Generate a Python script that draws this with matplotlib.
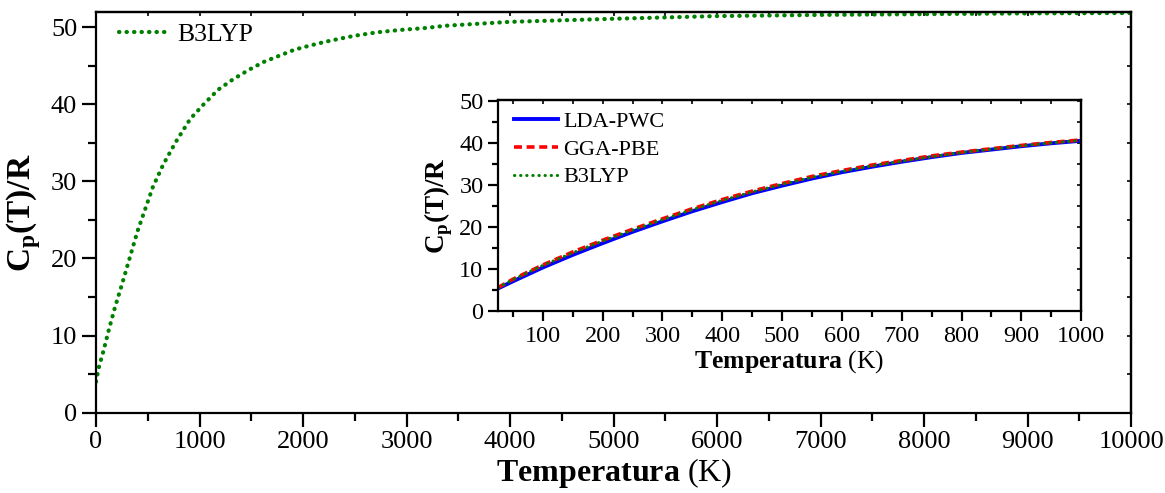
import matplotlib
matplotlib.use("Agg")
import matplotlib.pyplot as plt
from matplotlib.ticker import MultipleLocator

plt.rcParams['font.family'] = ['Liberation Serif', 'DejaVu Serif']
plt.rcParams['mathtext.fontset'] = 'custom'
plt.rcParams['mathtext.rm'] = 'Liberation Serif'
plt.rcParams['mathtext.bf'] = 'Liberation Serif:bold'

# ---------------- data ---------------- #
# main panel: B3LYP over the full range
temp_main = [0, 30, 70, 125, 185, 250, 335, 400, 475, 550, 650, 770, 910,
             1040, 1180, 1330, 1480, 1620, 1770, 1920, 2060, 2210, 2350,
             2500, 2720, 2940, 3180, 3380, 4000, 5000, 6000, 7000, 8000,
             9000, 10000]
cp_b3lyp_main = [4.0, 6.0, 7.9, 10.8, 13.75, 16.6, 20.5, 23.5, 26.4, 29.3,
                 32.2, 35.1, 38.1, 40.0, 41.9, 43.3, 44.5, 45.5, 46.3, 47.1,
                 47.6, 48.1, 48.5, 48.9, 49.35, 49.65, 49.9, 50.2, 50.7,
                 51.1, 51.45, 51.6, 51.7, 51.8, 51.85]

# inset: low temperature, three functionals
temp_inset = [25, 50, 100, 150, 200, 250, 300, 350, 400, 450, 500, 550,
              600, 650, 700, 750, 800, 850, 900, 950, 1000]
cp_lda = [5.4, 7.1, 10.4, 13.4, 16.2, 18.9, 21.4, 23.8, 26.0, 28.1, 29.9,
          31.6, 33.1, 34.4, 35.6, 36.7, 37.7, 38.5, 39.3, 40.0, 40.6]
cp_gga = [5.6, 7.6, 11.0, 14.1, 16.9, 19.5, 22.0, 24.4, 26.6, 28.6, 30.4,
          32.1, 33.5, 34.8, 35.9, 37.0, 37.9, 38.7, 39.5, 40.2, 40.8]
cp_b3lyp = [5.6, 7.5, 10.9, 13.9, 16.7, 19.3, 21.8, 24.2, 26.4, 28.4, 30.2,
            31.9, 33.3, 34.6, 35.7, 36.8, 37.8, 38.6, 39.4, 40.1, 40.7]

green = '#008000'
xlabel_txt = r'$\mathbf{Temperatura}$ (K)'
ylabel_txt = r'C$_\mathregular{p}$(T)/R'


def style_axes(ax, xmaj, xmin, ymaj, ymin, size, maj_len, min_len):
    for sp in ax.spines.values():
        sp.set_linewidth(1.6)
    ax.xaxis.set_major_locator(MultipleLocator(xmaj))
    ax.xaxis.set_minor_locator(MultipleLocator(xmin))
    ax.yaxis.set_major_locator(MultipleLocator(ymaj))
    ax.yaxis.set_minor_locator(MultipleLocator(ymin))
    ax.tick_params(which='both', direction='out', width=1.6, labelsize=size,
                   top=False, right=False)
    ax.tick_params(which='major', length=maj_len)
    ax.tick_params(which='minor', length=min_len)
    # inward ticks on the top and right sides
    top = ax.secondary_xaxis('top')
    right = ax.secondary_yaxis('right')
    top.xaxis.set_major_locator(MultipleLocator(xmaj))
    top.xaxis.set_minor_locator(MultipleLocator(xmin))
    right.yaxis.set_major_locator(MultipleLocator(ymaj))
    right.yaxis.set_minor_locator(MultipleLocator(ymin))
    for s in (top, right):
        s.tick_params(which='both', direction='in', width=1.2, length=3,
                      labeltop=False, labelright=False)
        for sp in s.spines.values():
            sp.set_linewidth(1.6)


fig = plt.figure(figsize=(11.65, 4.93), dpi=100)

# main axes
ax = fig.add_axes([0.0824, 0.163, 0.8886, 0.813])
ax.plot(temp_main, cp_b3lyp_main, color=green, lw=3.0,
        linestyle=(0, (0.1, 1.7)), dash_capstyle='round', label='B3LYP')
ax.set_xlim(0, 10000)
ax.set_ylim(0, 52)
style_axes(ax, 1000, 500, 10, 5, 19, 10, 6)
ax.set_xlabel(xlabel_txt, fontsize=23, labelpad=2)
ax.set_ylabel(ylabel_txt, fontsize=24, fontweight='bold', labelpad=6)
ax.legend(loc='upper left', frameon=False, fontsize=18.5,
          handlelength=1.9, handletextpad=0.35,
          bbox_to_anchor=(0.0, 1.03), borderaxespad=0.5)

# inset axes
ins = fig.add_axes([0.4275, 0.369, 0.5005, 0.428])
ins.plot(temp_inset, cp_lda, color='#0000ff', lw=2.8, label='LDA-PWC')
ins.plot(temp_inset, cp_gga, color='#ff0000', lw=2.6,
         linestyle=(0, (2.2, 1.3)), label='GGA-PBE')
ins.plot(temp_inset, cp_b3lyp, color=green, lw=2.2,
         linestyle=(0, (0.1, 1.9)), dash_capstyle='round', label='B3LYP')
ins.set_xlim(25, 1000)
ins.set_ylim(0, 50.3)
style_axes(ins, 100, 50, 10, 5, 17.5, 7, 4.5)
ins.set_xlabel(xlabel_txt, fontsize=18.5, labelpad=1)
ins.set_ylabel(ylabel_txt, fontsize=19.5, fontweight='bold', labelpad=3)
ins.legend(loc='upper left', frameon=False, fontsize=16, handlelength=2.0,
           handletextpad=0.25, labelspacing=0.32,
           bbox_to_anchor=(0.0, 1.02), borderaxespad=0.3)

fig.savefig('out.png', dpi=100)
